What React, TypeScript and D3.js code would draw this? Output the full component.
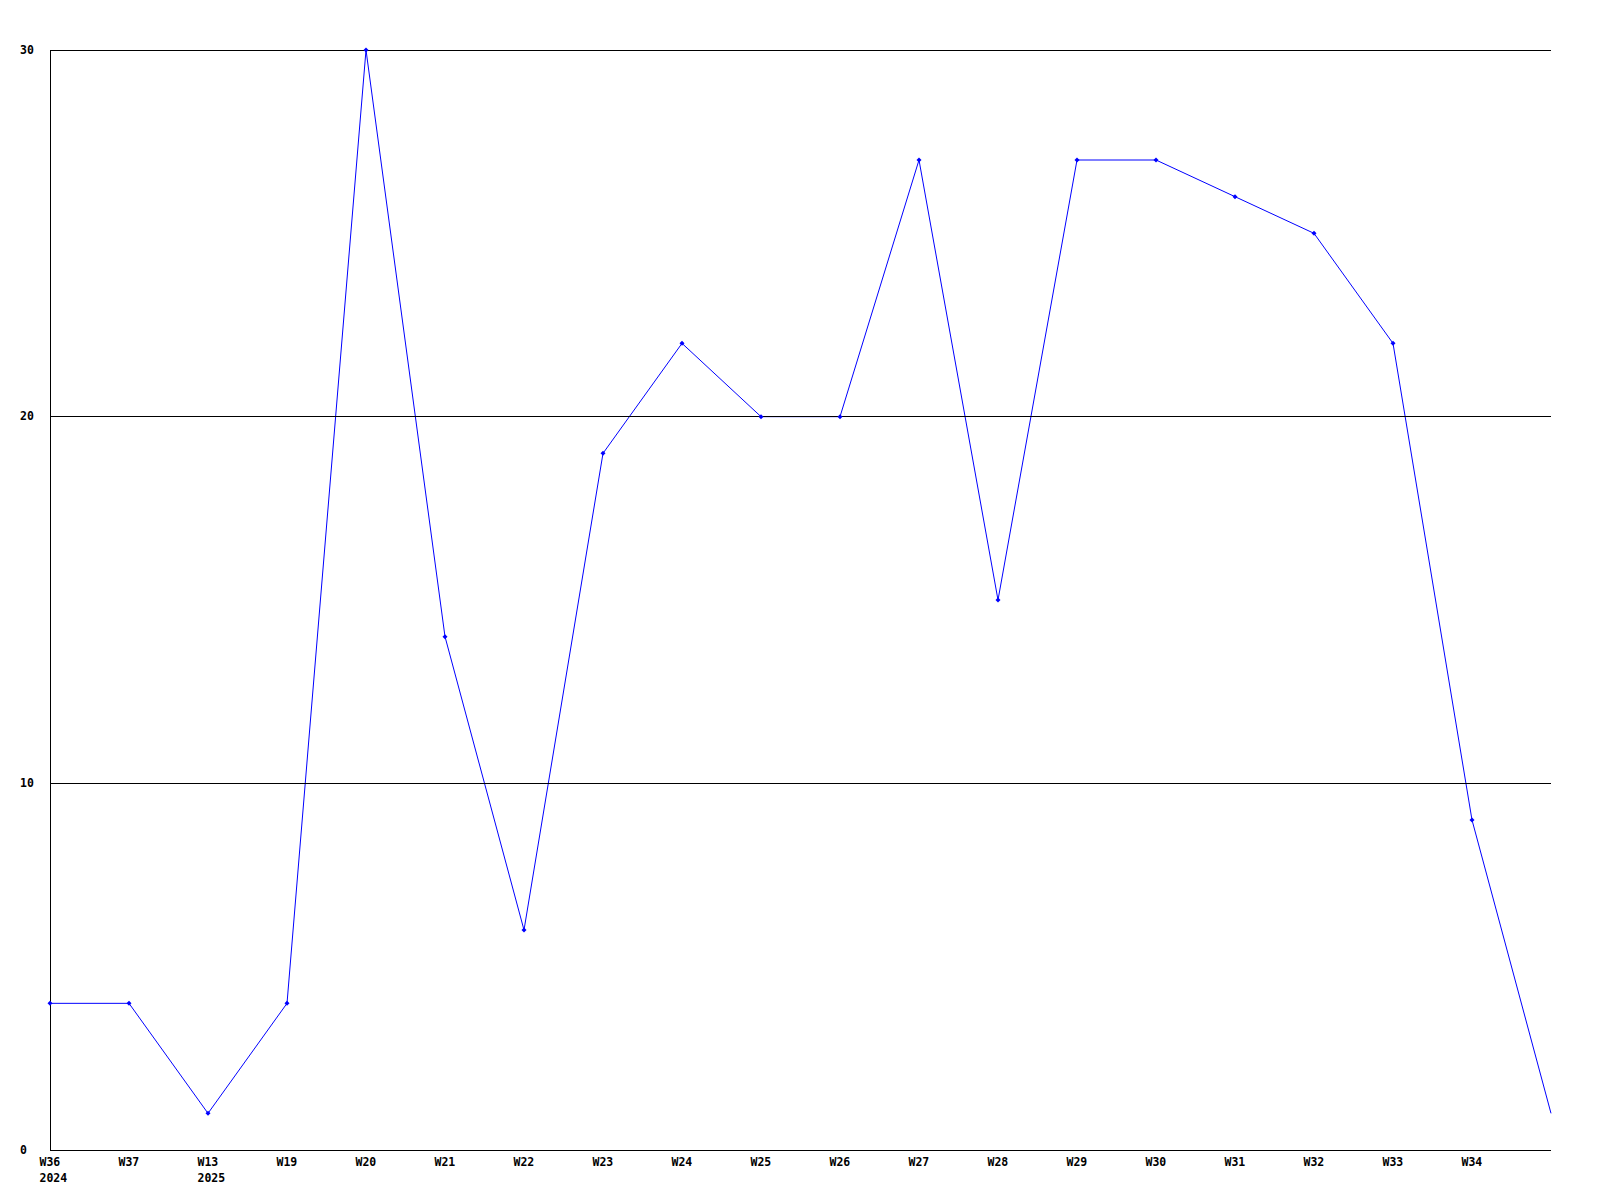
import React from "react";
import * as d3 from "d3";

const weeks = ["W36", "W37", "W13", "W19", "W20", "W21", "W22", "W23", "W24", "W25", "W26", "W27", "W28", "W29", "W30", "W31", "W32", "W33", "W34", ""];
const yearLabels = ["2024", "", "2025", "", "", "", "", "", "", "", "", "", "", "", "", "", "", "", "", ""];
const values = [4, 4, 1, 4, 30, 14, 6, 19, 22, 20, 20, 27, 15, 27, 27, 26, 25, 22, 9, 1];
const yTicks = [0, 10, 20, 30];

const W = 1600, H = 1200;
const left = 50, right = 1551, top = 50, bottom = 1150;
const font = "'DejaVu Sans Mono', monospace";

export default function App() {
  const x = d3.scaleLinear().domain([0, values.length - 1]).range([left, right]);
  const y = d3.scaleLinear().domain([0, 30]).range([bottom, top]);
  const line = d3.line<number>().x((_, i) => x(i)).y((d) => y(d));
  return (
    <svg width={W} height={H} style={{ position: "absolute", left: 0, top: 0, background: "#fff" }}>
      <rect x={0} y={0} width={W} height={H} fill="#fff" />
      <path d={line(values) || ""} fill="none" stroke="#0000ff" strokeWidth={1} />
      {yTicks.map((t) => (
        <g key={t}>
          {t > 0 && <line x1={left} x2={right} y1={Math.floor(y(t)) + 0.5} y2={Math.floor(y(t)) + 0.5} stroke="#000" strokeWidth={1} shapeRendering="crispEdges" />}
          <text x={20} y={Math.floor(y(t))} dy="0.35em" fontFamily={font} fontWeight="bold" fontSize={11.5} fill="#000">{t}</text>
        </g>
      ))}
      <line x1={left + 0.5} x2={left + 0.5} y1={top} y2={bottom + 0.5} stroke="#000" shapeRendering="crispEdges" />
      <line x1={left} x2={right} y1={bottom + 0.5} y2={bottom + 0.5} stroke="#000" shapeRendering="crispEdges" />
      {weeks.map((w, i) => (
        <g key={i}>
          <text x={x(i) - 10.5} y={1166} fontFamily={font} fontWeight="bold" fontSize={11.5} fill="#000">{w}</text>
          {yearLabels[i] && (
            <text x={x(i) - 10.5} y={1182} fontFamily={font} fontWeight="bold" fontSize={11.5} fill="#000">{yearLabels[i]}</text>
          )}
        </g>
      ))}
      {values.slice(0, values.length - 1).map((v, i) => (
        <path key={i} d={`M${x(i)},${y(v) - 2.5}L${x(i) + 2.5},${y(v)}L${x(i)},${y(v) + 2.5}L${x(i) - 2.5},${y(v)}Z`} fill="#0000ff" />
      ))}
    </svg>
  );
}
